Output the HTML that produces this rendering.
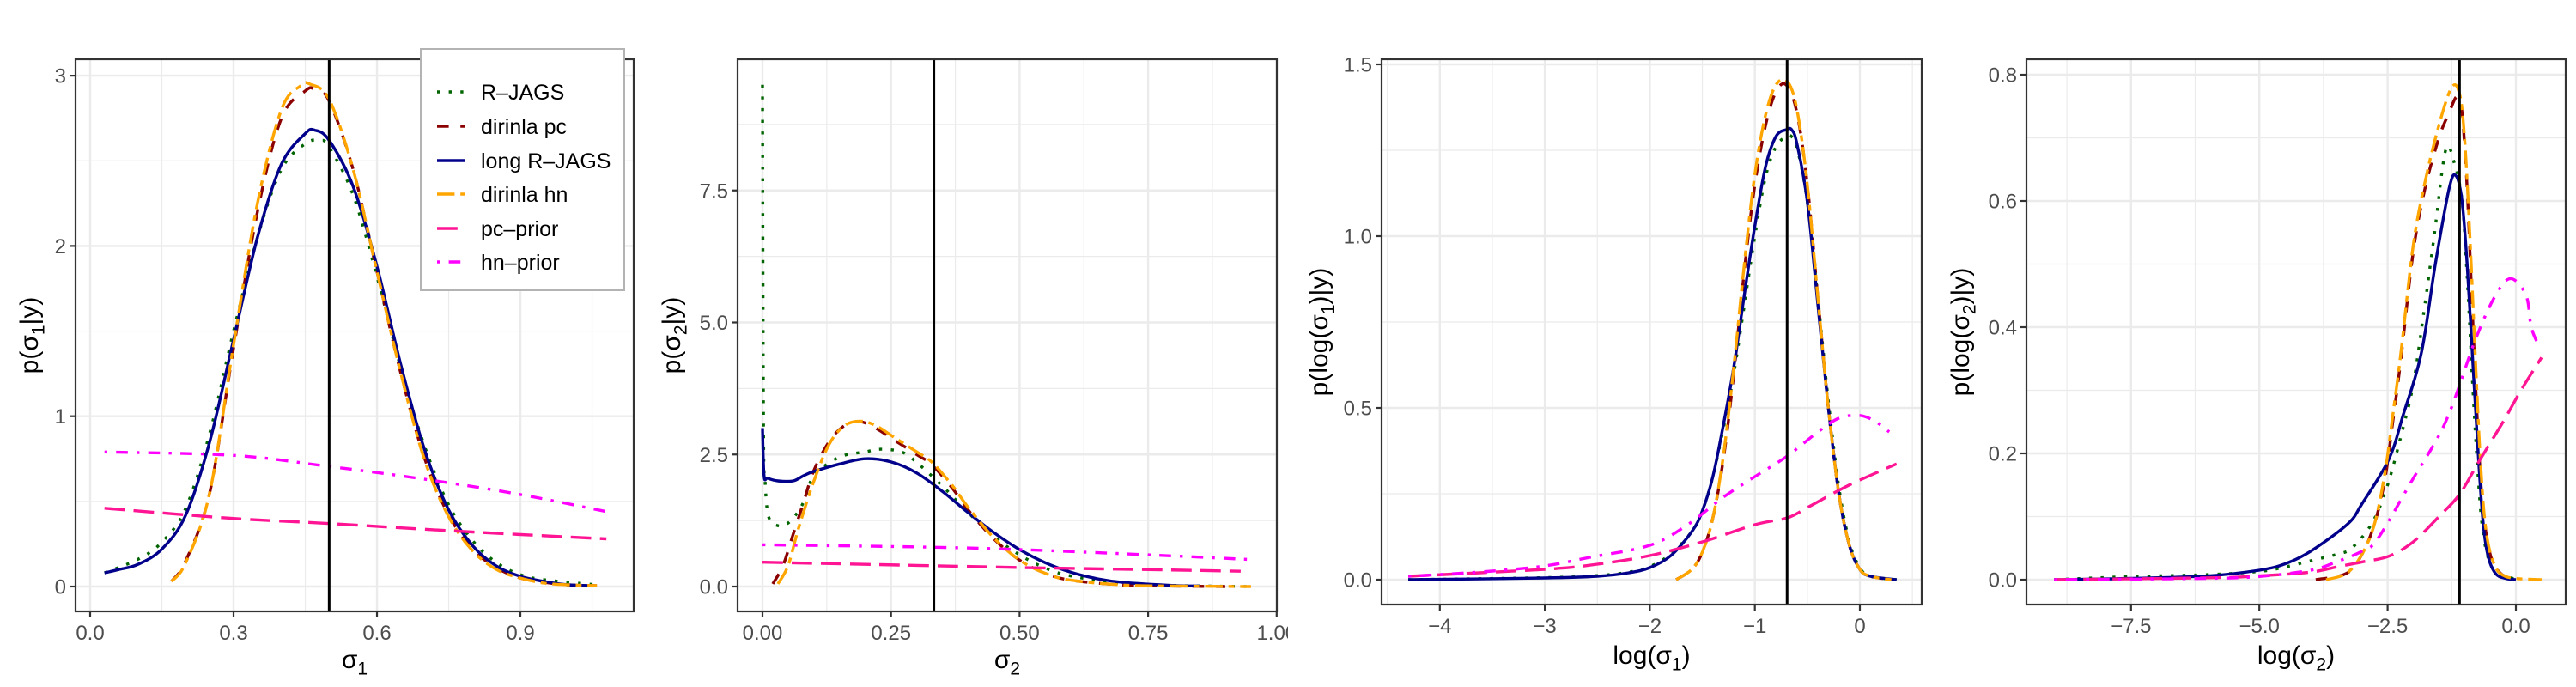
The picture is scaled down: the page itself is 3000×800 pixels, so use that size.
<!DOCTYPE html>
<html><head><meta charset="utf-8">
<style>
html,body{margin:0;padding:0;background:#fff;}
svg{display:block;font-family:"Liberation Sans","DejaVu Sans",sans-serif;}
</style></head>
<body>
<svg id="chart" width="3000" height="800" viewBox="0 0 3000 800" xmlns="http://www.w3.org/2000/svg">
<defs><clipPath id="clipP2lab"><rect x="760" y="0" width="740" height="800"/></clipPath></defs>
</svg>
<script>
// ===== Panel 1: sigma1 =====
const p1_rjags_x=[0.03,0.1,0.15,0.2,0.25,0.3,0.35,0.4,0.45,0.48,0.5,0.55,0.6,0.65,0.7,0.75,0.8,0.85,0.9,0.95,1.06];
const p1_rjags_y=[0.08,0.16,0.26,0.46,0.9,1.5,2.05,2.45,2.6,2.62,2.58,2.3,1.82,1.28,0.82,0.48,0.27,0.14,0.07,0.04,0.01];
const p1_pc_x=[0.17,0.2,0.25,0.3,0.35,0.4,0.45,0.47,0.5,0.55,0.6,0.65,0.7,0.75,0.8,0.85,0.9,0.95,1.0,1.06];
const p1_pc_y=[0.03,0.15,0.55,1.4,2.2,2.75,2.91,2.92,2.85,2.45,1.85,1.25,0.75,0.42,0.22,0.11,0.05,0.025,0.01,0.005];
const p1_long_x=[0.03,0.06,0.1,0.15,0.2,0.25,0.3,0.35,0.4,0.45,0.47,0.5,0.55,0.6,0.65,0.7,0.75,0.8,0.85,0.9,0.95,1.0,1.05];
const p1_long_y=[0.08,0.1,0.13,0.22,0.42,0.85,1.45,2.05,2.48,2.66,2.68,2.62,2.35,1.88,1.3,0.8,0.45,0.24,0.12,0.06,0.03,0.01,0.005];
const p1_hn_x=[0.17,0.2,0.25,0.3,0.35,0.4,0.44,0.46,0.5,0.55,0.6,0.65,0.7,0.75,0.8,0.85,0.9,0.95,1.0,1.06];
const p1_hn_y=[0.03,0.14,0.55,1.42,2.25,2.8,2.94,2.95,2.86,2.45,1.85,1.25,0.74,0.41,0.21,0.1,0.05,0.02,0.01,0.005];
const p1_pcp_x=[0.03,0.3,0.5,0.8,1.08];
const p1_pcp_y=[0.46,0.4,0.37,0.32,0.28];
const p1_hnp_x=[0.03,0.3,0.5,0.7,0.9,1.08];
const p1_hnp_y=[0.79,0.77,0.705,0.63,0.54,0.44];
const p1_xticks=[0,0.3,0.6,0.9]; const p1_xlab=["0.0","0.3","0.6","0.9"];
const p1_yticks=[0,1,2,3]; const p1_ylab=["0","1","2","3"];
const p1_xminor=[0.15,0.45,0.75,1.05]; const p1_yminor=[0.5,1.5,2.5];
const p1_vline=[0.5];

// ===== Panel 2: sigma2 =====
const p2_rjags_x=[0,0.002,0.005,0.01,0.02,0.04,0.06,0.08,0.1,0.15,0.2,0.23,0.27,0.3,0.35,0.4,0.45,0.5,0.55,0.6,0.7,0.8,0.95];
const p2_rjags_y=[9.5,3.0,2.0,1.4,1.2,1.15,1.3,1.6,2.1,2.45,2.55,2.6,2.55,2.35,1.9,1.4,0.95,0.6,0.35,0.2,0.06,0.02,0.0];
const p2_long_x=[0,0.003,0.01,0.03,0.06,0.08,0.1,0.15,0.2,0.25,0.3,0.35,0.4,0.45,0.5,0.55,0.6,0.65,0.7,0.8,0.85];
const p2_long_y=[3.0,2.1,2.05,2.0,2.0,2.1,2.18,2.32,2.42,2.36,2.15,1.8,1.4,1.02,0.7,0.45,0.27,0.15,0.08,0.02,0.01];
const p2_pc_x=[0.02,0.04,0.06,0.08,0.1,0.13,0.16,0.19,0.22,0.26,0.3,0.33,0.37,0.4,0.45,0.5,0.55,0.6,0.7,0.8,0.9];
const p2_pc_y=[0.05,0.4,1.0,1.6,2.2,2.75,3.05,3.12,3.0,2.75,2.5,2.3,1.85,1.45,0.9,0.5,0.25,0.12,0.03,0.01,0.0];
const p2_hn_x=[0.03,0.05,0.07,0.1,0.13,0.16,0.19,0.22,0.26,0.3,0.33,0.37,0.4,0.45,0.5,0.55,0.6,0.7,0.8,0.95];
const p2_hn_y=[0.05,0.4,1.1,2.0,2.7,3.05,3.13,3.05,2.8,2.55,2.35,1.9,1.5,0.92,0.5,0.25,0.12,0.03,0.01,0.0];
const p2_pcp_x=[0,0.3,0.5,0.75,0.93];
const p2_pcp_y=[0.46,0.4,0.36,0.32,0.29];
const p2_hnp_x=[0,0.3,0.5,0.75,0.95];
const p2_hnp_y=[0.79,0.75,0.7,0.6,0.51];
const p2_xticks=[0,0.25,0.5,0.75,1.0]; const p2_xlab=["0.00","0.25","0.50","0.75","1.00"];
const p2_yticks=[0,2.5,5,7.5]; const p2_ylab=["0.0","2.5","5.0","7.5"];
const p2_xminor=[0.125,0.375,0.625,0.875]; const p2_yminor=[1.25,3.75,6.25,8.75];
const p2_vline=[0.3333];

// ===== Panel 3: log(sigma1) =====
const p3_rjags_x=[-4.3,-3,-2.5,-2.2,-2,-1.8,-1.6,-1.5,-1.4,-1.3,-1.2,-1.1,-1,-0.9,-0.8,-0.7,-0.65,-0.6,-0.5,-0.4,-0.3,-0.2,-0.1,0,0.1,0.35];
const p3_rjags_y=[0,0.006,0.012,0.022,0.038,0.075,0.14,0.2,0.3,0.44,0.6,0.8,1.0,1.17,1.26,1.29,1.29,1.26,1.1,0.82,0.52,0.27,0.11,0.035,0.01,0];
const p3_pc_x=[-1.75,-1.6,-1.5,-1.4,-1.3,-1.2,-1.1,-1,-0.9,-0.8,-0.7,-0.6,-0.5,-0.4,-0.3,-0.2,-0.1,0,0.1,0.3];
const p3_pc_y=[0,0.03,0.08,0.18,0.35,0.6,0.9,1.15,1.32,1.42,1.44,1.36,1.15,0.82,0.5,0.25,0.1,0.03,0.01,0];
const p3_long_x=[-4.3,-3,-2.5,-2.2,-2,-1.8,-1.6,-1.5,-1.4,-1.3,-1.2,-1.1,-1,-0.9,-0.8,-0.7,-0.65,-0.6,-0.5,-0.4,-0.3,-0.2,-0.1,0,0.1,0.35];
const p3_long_y=[0,0.005,0.01,0.02,0.035,0.07,0.14,0.2,0.3,0.45,0.62,0.83,1.03,1.2,1.29,1.31,1.31,1.27,1.1,0.8,0.5,0.25,0.1,0.03,0.01,0];
const p3_hn_x=[-1.75,-1.6,-1.5,-1.4,-1.3,-1.2,-1.1,-1,-0.9,-0.8,-0.69,-0.6,-0.5,-0.4,-0.3,-0.2,-0.1,0,0.1,0.3];
const p3_hn_y=[0,0.03,0.08,0.18,0.36,0.62,0.92,1.18,1.35,1.44,1.45,1.37,1.15,0.82,0.5,0.25,0.1,0.03,0.01,0];
const p3_pcp_x=[-4.3,-3,-2.5,-2,-1.5,-1,-0.69,-0.5,-0.2,0,0.35];
const p3_pcp_y=[0.01,0.03,0.045,0.07,0.11,0.16,0.18,0.21,0.26,0.29,0.337];
const p3_hnp_x=[-4.3,-4,-3.5,-3,-2.57,-2,-1.64,-1.3,-1,-0.69,-0.4,-0.2,0,0.15,0.28];
const p3_hnp_y=[0.01,0.015,0.025,0.04,0.065,0.1,0.16,0.24,0.3,0.36,0.43,0.47,0.478,0.46,0.43];
const p3_xticks=[-4,-3,-2,-1,0]; const p3_xlab=["\u22124","\u22123","\u22122","\u22121","0"];
const p3_yticks=[0,0.5,1,1.5]; const p3_ylab=["0.0","0.5","1.0","1.5"];
const p3_xminor=[-4.5,-3.5,-2.5,-1.5,-0.5,0.5]; const p3_yminor=[0.25,0.75,1.25];
const p3_vline=[-0.693];

// ===== Panel 4: log(sigma2) =====
const p4_rjags_x=[-9,-7.5,-6,-5,-4.5,-4,-3.5,-3.2,-2.8,-2.5,-2.2,-2,-1.8,-1.6,-1.37,-1.2,-1.05,-0.95,-0.85,-0.75,-0.65,-0.5,-0.3,-0.1,0];
const p4_rjags_y=[0,0.005,0.008,0.013,0.02,0.03,0.04,0.05,0.09,0.15,0.24,0.31,0.42,0.54,0.68,0.66,0.6,0.48,0.32,0.18,0.08,0.025,0.008,0.003,0];
const p4_pc_x=[-3.9,-3.3,-3,-2.75,-2.55,-2.4,-2.24,-2,-1.77,-1.5,-1.3,-1.15,-1.05,-0.95,-0.85,-0.75,-0.65,-0.5,-0.3,0];
const p4_pc_y=[0,0.01,0.04,0.09,0.16,0.25,0.35,0.52,0.62,0.7,0.74,0.765,0.74,0.62,0.43,0.25,0.12,0.04,0.01,0];
const p4_long_x=[-9,-7.5,-6,-5,-4.5,-4,-3.28,-3,-2.48,-2.2,-1.84,-1.57,-1.3,-1.17,-1.05,-0.95,-0.85,-0.75,-0.65,-0.55,-0.4,-0.2,0];
const p4_long_y=[0,0.002,0.006,0.015,0.025,0.045,0.088,0.12,0.19,0.26,0.36,0.5,0.62,0.64,0.6,0.5,0.36,0.22,0.1,0.04,0.01,0.002,0];
const p4_hn_x=[-3.7,-3.3,-3,-2.75,-2.55,-2.4,-2.24,-2,-1.77,-1.5,-1.25,-1.1,-1,-0.9,-0.8,-0.7,-0.6,-0.45,-0.2,0.5];
const p4_hn_y=[0,0.01,0.04,0.09,0.17,0.26,0.36,0.53,0.63,0.72,0.78,0.77,0.7,0.55,0.37,0.2,0.09,0.03,0.005,0];
const p4_pcp_x=[-9,-6,-5,-4,-3.5,-3,-2.48,-2,-1.5,-1.1,-0.7,-0.25,0.1,0.5];
const p4_pcp_y=[0,0.003,0.006,0.012,0.02,0.028,0.037,0.06,0.1,0.135,0.19,0.25,0.3,0.352];
const p4_hnp_x=[-9,-6,-5,-4,-3.5,-3,-2.7,-2.04,-1.37,-0.79,-0.4,-0.1,0.2,0.3,0.45];
const p4_hnp_y=[0,0.002,0.005,0.015,0.028,0.045,0.064,0.155,0.25,0.38,0.45,0.477,0.45,0.4,0.37];
const p4_xticks=[-7.5,-5,-2.5,0]; const p4_xlab=["\u22127.5","\u22125.0","\u22122.5","0.0"];
const p4_yticks=[0,0.2,0.4,0.6,0.8]; const p4_ylab=["0.0","0.2","0.4","0.6","0.8"];
const p4_xminor=[-8.75,-6.25,-3.75,-1.25]; const p4_yminor=[0.1,0.3,0.5,0.7];
const p4_vline=[-1.0986];

const legendLabels=["R\u2013JAGS","dirinla pc","long R\u2013JAGS","dirinla hn","pc\u2013prior","hn\u2013prior"];

const NS="http://www.w3.org/2000/svg";
const svg=document.getElementById('chart');
function mk(tag,attrs,parent){const e=document.createElementNS(NS,tag);for(const k in attrs)e.setAttribute(k,attrs[k]);(parent||svg).appendChild(e);return e;}

const U=3.4;
const styles=[
 {key:'rjags',color:'#006400',dash:[U,3*U],cap:'butt',slug:'r-jags'},
 {key:'pc',color:'#8B0000',dash:[4*U,4*U],cap:'butt',slug:'dirinla-pc'},
 {key:'long',color:'#00008B',dash:null,cap:'butt',slug:'long-r-jags'},
 {key:'hn',color:'#FFA500',dash:[6*U,2*U,2*U,2*U],cap:'butt',slug:'dirinla-hn'},
 {key:'pcp',color:'#FF1493',dash:[7*U,3*U],cap:'butt',slug:'pc-prior'},
 {key:'hnp',color:'#FF00FF',dash:[1*U,3*U,4*U,3*U],cap:'butt',slug:'hn-prior'}
];

const panels=[
 {id:1,L:88,R:738,T:69,B:712,x0:105,kx:556.7,y0:683,ky:198.3,
  series:{rjags:[p1_rjags_x,p1_rjags_y],pc:[p1_pc_x,p1_pc_y],long:[p1_long_x,p1_long_y],hn:[p1_hn_x,p1_hn_y],pcp:[p1_pcp_x,p1_pcp_y],hnp:[p1_hnp_x,p1_hnp_y]},
  xt:p1_xticks,xl:p1_xlab,yt:p1_yticks,yl:p1_ylab,xm:p1_xminor,ym:p1_yminor,vl:p1_vline,xlabY:745,xtitleY:778,ytitleX:34,xtitle:['\u03C3','1',''],ytitle:['p(\u03C3','1','|y)']},
 {id:2,L:859,R:1487,T:69,B:712,x0:888,kx:598.8,y0:683,ky:61.5,
  series:{rjags:[p2_rjags_x,p2_rjags_y],pc:[p2_pc_x,p2_pc_y],long:[p2_long_x,p2_long_y],hn:[p2_hn_x,p2_hn_y],pcp:[p2_pcp_x,p2_pcp_y],hnp:[p2_hnp_x,p2_hnp_y]},
  xt:p2_xticks,xl:p2_xlab,yt:p2_yticks,yl:p2_ylab,xm:p2_xminor,ym:p2_yminor,vl:p2_vline,xlabY:745,xtitleY:778,ytitleX:782,xtitle:['\u03C3','2',''],ytitle:['p(\u03C3','2','|y)'],clip:true},
 {id:3,L:1609,R:2238,T:69,B:704,x0:2166,kx:122.3,y0:675,ky:400,
  series:{rjags:[p3_rjags_x,p3_rjags_y],pc:[p3_pc_x,p3_pc_y],long:[p3_long_x,p3_long_y],hn:[p3_hn_x,p3_hn_y],pcp:[p3_pcp_x,p3_pcp_y],hnp:[p3_hnp_x,p3_hnp_y]},
  xt:p3_xticks,xl:p3_xlab,yt:p3_yticks,yl:p3_ylab,xm:p3_xminor,ym:p3_yminor,vl:p3_vline,xlabY:737,xtitleY:773,ytitleX:1536,xtitle:['log(\u03C3','1',')'],ytitle:['p(log(\u03C3','1',')|y)']},
 {id:4,L:2360,R:2988,T:69,B:704,x0:2930,kx:59.76,y0:675,ky:735,
  series:{rjags:[p4_rjags_x,p4_rjags_y],pc:[p4_pc_x,p4_pc_y],long:[p4_long_x,p4_long_y],hn:[p4_hn_x,p4_hn_y],pcp:[p4_pcp_x,p4_pcp_y],hnp:[p4_hnp_x,p4_hnp_y]},
  xt:p4_xticks,xl:p4_xlab,yt:p4_yticks,yl:p4_ylab,xm:p4_xminor,ym:p4_yminor,vl:p4_vline,xlabY:737,xtitleY:773,ytitleX:2283,xtitle:['log(\u03C3','2',')'],ytitle:['p(log(\u03C3','2',')|y)']}
];

function subText(parent,x,y,parts,size,rot){
  const t=mk('text',{x:x,y:y,'font-size':size,fill:'#000','text-anchor':'middle'},parent);
  if(rot)t.setAttribute('transform','rotate(-90 '+x+' '+y+')');
  const a=mk('tspan',{},t);a.textContent=parts[0];
  const b=mk('tspan',{'font-size':size*0.7,dy:size*0.25},t);b.textContent=parts[1];
  const c=mk('tspan',{dy:-size*0.25},t);c.textContent=parts[2];
  return t;
}

// monotone-ish Catmull-Rom smoothing (in pixel space)
function smoothPath(pts){
  if(pts.length<3)return pts.map((q,i)=>(i?'L':'M')+q[0].toFixed(1)+','+q[1].toFixed(1)).join(' ');
  let d='M'+pts[0][0].toFixed(1)+','+pts[0][1].toFixed(1);
  for(let i=0;i<pts.length-1;i++){
    const p0=pts[Math.max(0,i-1)],p1=pts[i],p2=pts[i+1],p3=pts[Math.min(pts.length-1,i+2)];
    const t=1/6;
    const c1=[p1[0]+(p2[0]-p0[0])*t,p1[1]+(p2[1]-p0[1])*t];
    const c2=[p2[0]-(p3[0]-p1[0])*t,p2[1]-(p3[1]-p1[1])*t];
    d+=' C'+c1[0].toFixed(1)+','+c1[1].toFixed(1)+' '+c2[0].toFixed(1)+','+c2[1].toFixed(1)+' '+p2[0].toFixed(1)+','+p2[1].toFixed(1);
  }
  return d;
}

panels.forEach(p=>{
  const g=mk('g',{});
  
  
  const X=v=>p.x0+(v)*p.kx, Y=v=>p.y0-(v)*p.ky;
  const clipId='clip'+p.id;
  const cp=mk('clipPath',{id:clipId},svg.querySelector('defs'));
  mk('rect',{x:p.L,y:p.T,width:p.R-p.L,height:p.B-p.T},cp);
  const grid=mk('g',{},g);
  
  
  p.xm.forEach(v=>{mk('line',{x1:X(v),x2:X(v),y1:p.T,y2:p.B,stroke:'#EBEBEB','stroke-width':1.2},grid);});
  p.ym.forEach(v=>{mk('line',{x1:p.L,x2:p.R,y1:Y(v),y2:Y(v),stroke:'#EBEBEB','stroke-width':1.2},grid);});
  p.xt.forEach(v=>{mk('line',{x1:X(v),x2:X(v),y1:p.T,y2:p.B,stroke:'#EBEBEB','stroke-width':2.4},grid);});
  p.yt.forEach(v=>{mk('line',{x1:p.L,x2:p.R,y1:Y(v),y2:Y(v),stroke:'#EBEBEB','stroke-width':2.4},grid);});
  const lines=mk('g',{'clip-path':'url(#'+clipId+')'},g);
  ['rjags','pc','long','hn','pcp','hnp'].forEach(k=>{
    const st=styles.find(s=>s.key===k);
    const [xs,ys]=p.series[k];
    const pts=xs.map((x,i)=>[X(x),Y(ys[i])]);
    const path=mk('path',{d:smoothPath(pts),fill:'none',stroke:st.color,'stroke-width':3.4,'stroke-linecap':st.cap,'stroke-linejoin':'round'},lines);
    if(st.dash)path.setAttribute('stroke-dasharray',st.dash.join(' '));
    
    
  });
  p.vl.forEach(v=>{
    const l=mk('line',{x1:X(v),x2:X(v),y1:p.T,y2:p.B,stroke:'#000','stroke-width':3},g);
    
    
  });
  const border=mk('rect',{x:p.L,y:p.T,width:p.R-p.L,height:p.B-p.T,fill:'none',stroke:'#333','stroke-width':2.2},g);
  
  
  const labG=mk('g',{},g);
  if(p.clip)labG.setAttribute('clip-path','url(#clipP2lab)');
  p.xt.forEach((v,i)=>{
    mk('line',{x1:X(v),x2:X(v),y1:p.B,y2:p.B+7,stroke:'#333','stroke-width':2.2},g);
    const t=mk('text',{x:X(v),y:p.xlabY,'font-size':24,fill:'#4D4D4D','text-anchor':'middle'},labG);
    t.textContent=p.xl[i];
    
    
  });
  p.yt.forEach((v,i)=>{
    mk('line',{x1:p.L-7,x2:p.L,y1:Y(v),y2:Y(v),stroke:'#333','stroke-width':2.2},g);
    const t=mk('text',{x:p.L-11,y:Y(v)+8.5,'font-size':24,fill:'#4D4D4D','text-anchor':'end'},g);
    t.textContent=p.yl[i];
    
    
  });
  const xt=subText(g,(p.L+p.R)/2,p.xtitleY,p.xtitle,30,false);
  
  
  const yt=subText(g,p.ytitleX+10,(p.T+p.B)/2,p.ytitle,30,true);
  
  
});

// legend in panel 1
const lg=mk('g',{});


mk('rect',{x:490,y:57,width:237,height:281,fill:'#fff',stroke:'#B3B3B3','stroke-width':2},lg);
const rowY=[107,147,187,226,266,305];
styles.forEach((st,i)=>{
  const e=mk('g',{},lg);
  
  
  const l=mk('line',{x1:509,x2:542,y1:rowY[i],y2:rowY[i],stroke:st.color,'stroke-width':3.4,'stroke-linecap':st.cap},e);
  if(st.dash)l.setAttribute('stroke-dasharray',st.dash.join(' '));
  const t=mk('text',{x:560,y:rowY[i]+9,'font-size':25,fill:'#000'},e);
  t.textContent=legendLabels[i];
});
</script>
</body></html>
